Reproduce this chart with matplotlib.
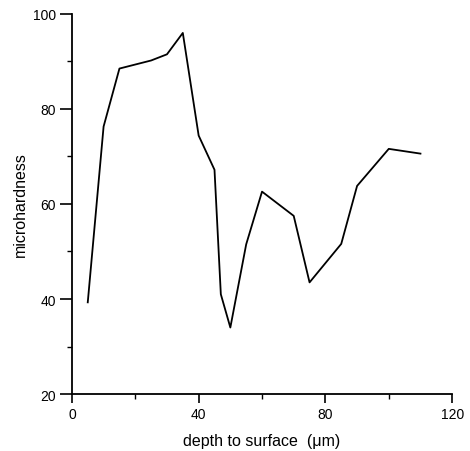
import numpy as np
import matplotlib
matplotlib.use("Agg")
import matplotlib.pyplot as plt
from matplotlib.ticker import MultipleLocator

# data
depth = [5, 10, 15, 25, 30, 35, 40, 45, 47, 50, 55, 60, 70, 75, 85, 90, 100, 110]
hardness = [39.3, 76.3, 88.5, 90.2, 91.5, 96.0, 74.4, 67.2, 41.0, 34.0,
            51.5, 62.6, 57.5, 43.5, 51.6, 63.8, 71.6, 70.6]

plt.rcParams['font.family'] = ['Liberation Sans', 'DejaVu Sans']

fig = plt.figure(figsize=(4.70, 4.52), dpi=100)
ax = fig.add_axes([0.153, 0.126, 0.809, 0.841])

ax.plot(depth, hardness, color='black', lw=1.3)

ax.set_xlim(0, 120)
ax.set_ylim(20, 100)
ax.xaxis.set_major_locator(MultipleLocator(40))
ax.xaxis.set_minor_locator(MultipleLocator(20))
ax.yaxis.set_major_locator(MultipleLocator(20))
ax.yaxis.set_minor_locator(MultipleLocator(10))

for s in ['top', 'right']:
    ax.spines[s].set_visible(False)
for s in ['left', 'bottom']:
    ax.spines[s].set_linewidth(1.3)

ax.tick_params(which='major', direction='out', width=1.2, labelsize=10, pad=3)
ax.tick_params(axis='y', which='major', length=8.5)
ax.tick_params(axis='x', which='major', length=6.5)
ax.tick_params(which='minor', direction='out', length=3.6, width=1.0)

ax.set_xlabel(u'depth to surface  (\u03bcm)', fontsize=11.5, labelpad=8.5)
ax.set_ylabel('microhardness', fontsize=11.5, labelpad=3.5)

fig.savefig('out.png', dpi=100)
